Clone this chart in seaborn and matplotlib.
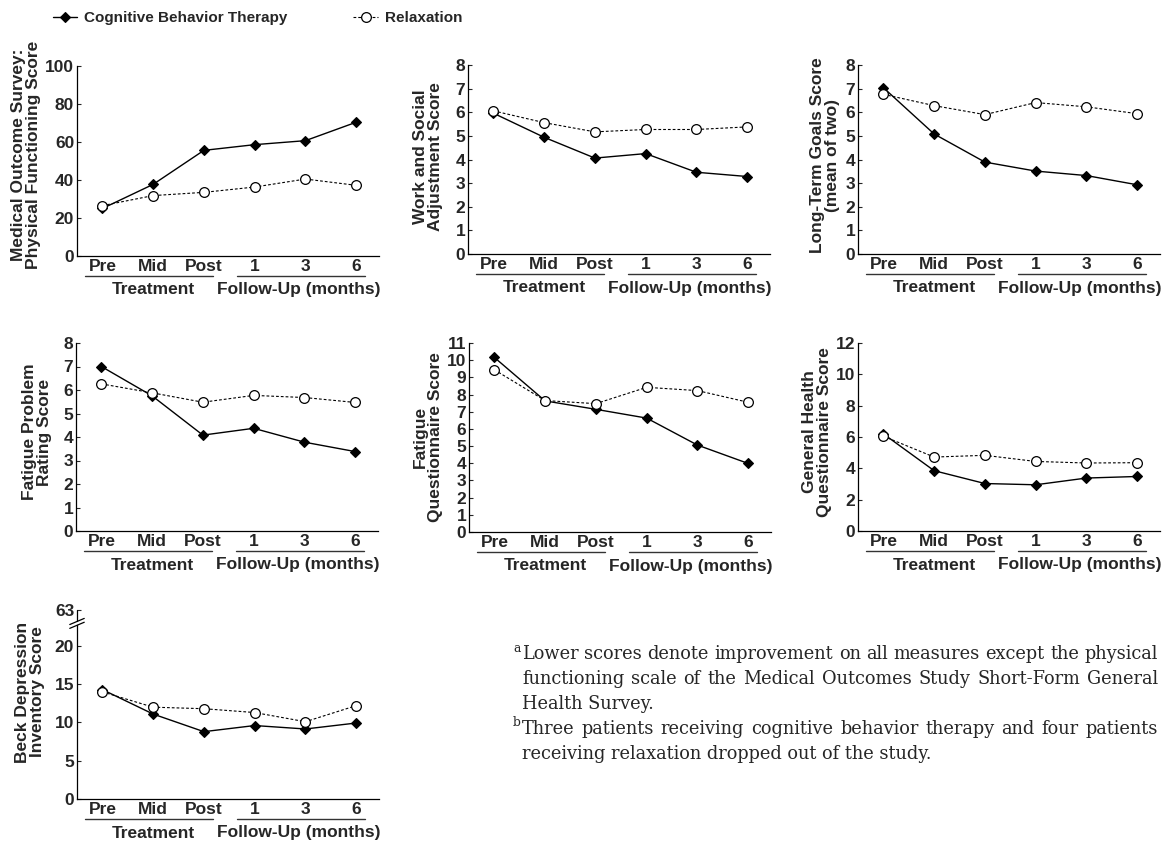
import numpy as np
import pandas as pd
import seaborn as sns
import matplotlib
matplotlib.use("Agg")
import matplotlib.pyplot as plt
from matplotlib import transforms

# ---------------- data ----------------
time_labels = ["Pre", "Mid", "Post", "1", "3", "6"]
groups = ["Cognitive Behavior Therapy", "Relaxation"]

phys_cbt = [25.0, 37.7, 55.6, 58.6, 60.7, 70.4]
phys_rel = [26.5, 31.8, 33.5, 36.3, 40.5, 37.2]
work_cbt = [5.96, 4.94, 4.06, 4.25, 3.46, 3.28]
work_rel = [6.06, 5.56, 5.17, 5.27, 5.27, 5.38]
goals_cbt = [7.04, 5.08, 3.89, 3.51, 3.32, 2.93]
goals_rel = [6.76, 6.28, 5.90, 6.41, 6.23, 5.94]
fprs_cbt = [7.00, 5.75, 4.08, 4.37, 3.78, 3.38]
fprs_rel = [6.26, 5.88, 5.48, 5.77, 5.68, 5.47]
fq_cbt = [10.16, 7.63, 7.14, 6.63, 5.06, 3.99]
fq_rel = [9.44, 7.65, 7.47, 8.42, 8.23, 7.55]
ghq_cbt = [6.20, 3.85, 3.03, 2.95, 3.38, 3.48]
ghq_rel = [6.05, 4.72, 4.83, 4.44, 4.34, 4.36]
bdi_cbt = [14.3, 11.1, 8.8, 9.6, 9.15, 9.93]
bdi_rel = [14.0, 12.0, 11.8, 11.3, 10.1, 12.2]

ylabels = [
    "Medical Outcome Survey:\nPhysical Functioning Score",
    "Work and Social\nAdjustment Score",
    "Long-Term Goals Score\n(mean of two)",
    "Fatigue Problem\nRating Score",
    "Fatigue\nQuestionnaire Score",
    "General Health\nQuestionnaire Score",
    "Beck Depression\nInventory Score",
]
series = [(phys_cbt, phys_rel), (work_cbt, work_rel), (goals_cbt, goals_rel),
          (fprs_cbt, fprs_rel), (fq_cbt, fq_rel), (ghq_cbt, ghq_rel), (bdi_cbt, bdi_rel)]
yticks_list = [
    [0, 20, 40, 60, 80, 100],
    list(range(0, 9)),
    list(range(0, 9)),
    list(range(0, 9)),
    list(range(0, 12)),
    [0, 2, 4, 6, 8, 10, 12],
    [0, 5, 10, 15, 20, 24.7],
]
ytick_labels_list = [None, None, None, None, None, None, ["0", "5", "10", "15", "20", "63"]]

footnote_lines = [
    ("a", "Lower scores denote improvement on all measures except the physical", True),
    (None, "functioning scale of the Medical Outcomes Study Short-Form General", True),
    (None, "Health Survey.", False),
    ("b", "Three patients receiving cognitive behavior therapy and four patients", True),
    (None, "receiving relaxation dropped out of the study.", False),
]

rows = []
for i, (c, r) in enumerate(series):
    for j in range(6):
        rows.append({"panel": i, "pos": j, "group": groups[0], "score": c[j]})
        rows.append({"panel": i, "pos": j, "group": groups[1], "score": r[j]})
df = pd.DataFrame(rows)

# ---------------- style ----------------
sns.set_style("ticks")
plt.rcParams["font.family"] = ["Liberation Sans", "DejaVu Sans"]
plt.rcParams["font.weight"] = "bold"
plt.rcParams["font.size"] = 12.5
FS = 12.5

W, H = 1169, 849
fig = plt.figure(figsize=(W / 100, H / 100), dpi=100)

# layout in pixels: (spine_left, bottom, top, label_center_x, label_center_y)
layout = [
    (77, 256, 66, 26, 155),
    (468, 254, 65, 428, 157),
    (858, 254, 65, 825, 155),
    (76, 531, 343, 37, 432),
    (469, 532, 343, 428, 437),
    (858, 531, 343, 817, 432),
    (77, 799, 610, 30, 692),
]
AX_W = 302

axes = []
for i in range(7):
    left, bottom, top, lx, ly = layout[i]
    ax = fig.add_axes([left / W, 1 - bottom / H, AX_W / W, (bottom - top) / H])
    axes.append(ax)
    sub = df[df.panel == i]
    sns.lineplot(data=sub[sub.group == groups[0]], x="pos", y="score", ax=ax,
                 color="black", marker="D", markersize=4.6, markerfacecolor="black",
                 markeredgecolor="black", markeredgewidth=0.8, linestyle="-",
                 linewidth=1.0, estimator=None, errorbar=None, legend=False,
                 clip_on=False, zorder=3, label=groups[0])
    sns.lineplot(data=sub[sub.group == groups[1]], x="pos", y="score", ax=ax,
                 color="black", marker="o", markersize=7, markerfacecolor="white",
                 markeredgecolor="black", markeredgewidth=0.9, linestyle=(0, (2.5, 1.8)),
                 linewidth=0.8, estimator=None, errorbar=None, legend=False,
                 clip_on=False, zorder=4, label=groups[1])
    yt = yticks_list[i]
    ax.set_xlim(-0.5, 5.45)
    ax.set_ylim(0, yt[-1])
    ax.set_xticks(range(6))
    ax.set_xticklabels(time_labels)
    ax.set_yticks(yt)
    if ytick_labels_list[i] is not None:
        ax.set_yticklabels(ytick_labels_list[i])
    ax.tick_params(axis="x", length=0, pad=2.5, labelsize=FS)
    ax.tick_params(axis="y", direction="in", length=3, width=0.8, pad=2, labelsize=FS)
    for t in ax.get_xticklabels() + ax.get_yticklabels():
        t.set_fontweight("bold")
    ax.set_xlabel("")
    ax.set_ylabel("")
    for s in ["top", "right"]:
        ax.spines[s].set_visible(False)
    for s in ["left", "bottom"]:
        ax.spines[s].set_linewidth(0.9)
        ax.spines[s].set_color("black")

    # group labels under the x axis
    blend = transforms.blended_transform_factory(ax.transData, ax.transAxes)
    off_line = blend + transforms.ScaledTranslation(0, -20 / 100, fig.dpi_scale_trans)
    off_text = blend + transforms.ScaledTranslation(0, -34 / 100, fig.dpi_scale_trans)
    ax.plot([-0.34, 2.18], [0, 0], transform=off_line, clip_on=False, color="#333333", lw=1.0)
    ax.plot([2.65, 5.17], [0, 0], transform=off_line, clip_on=False, color="#333333", lw=1.0)
    ax.text(1.0, 0, "Treatment", transform=off_text, ha="center", va="center",
            fontsize=FS, fontweight="bold")
    ax.text(3.87, 0, "Follow-Up (months)", transform=off_text, ha="center", va="center",
            fontsize=FS, fontweight="bold")

    fig.text(lx / W, 1 - ly / H, ylabels[i], rotation=90, ha="center", va="center",
             fontsize=FS, fontweight="bold", linespacing=1.0, multialignment="center")

# axis break on the Beck panel
axb = axes[6]
axb.spines["left"].set_bounds(0, 22.7)
bt = transforms.blended_transform_factory(axb.transAxes, axb.transData)
axb.plot([0, 0], [23.2, 24.7], transform=bt, color="black", lw=0.9, clip_on=False)
for v in (22.7, 23.2):
    axb.plot([-0.024, 0.024], [v - 0.4, v + 0.4], transform=bt, color="black",
             lw=0.9, clip_on=False)

# legend at top
h = axes[0].get_lines()[:2]
leg = fig.legend(h, groups, loc="upper left", bbox_to_anchor=(53 / W, 1 - 11 / H),
                 ncol=2, frameon=False, handlelength=1.6, handletextpad=0.45,
                 columnspacing=4.3, borderaxespad=0, borderpad=0,
                 prop={"size": 11, "weight": "bold"})

# footnotes (justified lines placed word by word)
X0, X1 = 522, 1158
ys = [654, 679, 704, 729, 754]
fig.canvas.draw()
r = fig.canvas.get_renderer()

serif = "DejaVu Serif"
probe = fig.text(0, 0, footnote_lines[1][1], fontsize=12, family=serif, fontweight="normal")
fig.canvas.draw()
fs = 12 * (X1 - X0) / probe.get_window_extent(r).width * 0.985
probe.remove()

for (sup, line, justify), y in zip(footnote_lines, ys):
    yf = 1 - y / H
    if sup:
        fig.text(513 / W, 1 - (y - 6) / H, sup, ha="left", va="center",
                 fontsize=fs * 0.7, fontweight="normal", family=serif)
    if not justify:
        fig.text(X0 / W, yf, line, ha="left", va="center", fontsize=fs,
                 fontweight="normal", family=serif)
        continue
    words = line.split(" ")
    wt = [fig.text(0, yf, w, ha="left", va="center", fontsize=fs,
                   fontweight="normal", family=serif) for w in words]
    fig.canvas.draw()
    widths = [t.get_window_extent(r).width for t in wt]
    gap = (X1 - X0 - sum(widths)) / (len(words) - 1)
    x = X0
    for t, wdt in zip(wt, widths):
        t.set_x(x / W)
        x += wdt + gap

fig.savefig("out.png", dpi=100)
